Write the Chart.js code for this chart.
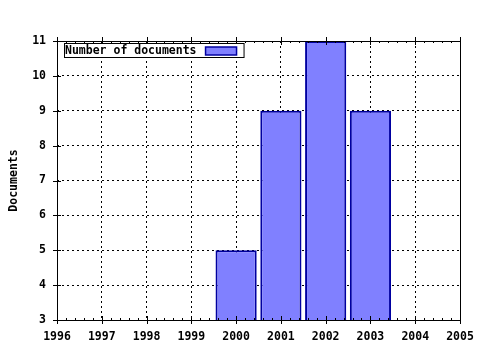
<!DOCTYPE html>
<html>
<head>
<meta charset="utf-8">
<script src="https://cdn.jsdelivr.net/npm/chart.js@4/dist/chart.umd.min.js"></script>
<style>
  html, body { margin: 0; padding: 0; background: #fff; }
  #wrap { width: 480px; height: 350px; }
</style>
</head>
<body>
<div id="wrap"><canvas id="docs"></canvas></div>
<script>
const years = [2000, 2001, 2002, 2003];
const docCounts = [5, 9, 11, 9];
const seriesLabel = 'Number of documents';
const axisTitle = 'Documents';

const FONT = { family: '"DejaVu Sans Mono", monospace', size: 11.5, weight: 'bold' };

// frame, crossing ticks, minor ticks and the boxed legend
const frame = {
    id: 'frame',
    afterDraw(chart) {
        const c = chart.ctx, a = chart.chartArea;
        const xs = chart.scales.x, ys = chart.scales.y;
        c.save();
        c.strokeStyle = '#000';
        c.lineWidth = 1;
        c.beginPath();
        c.rect(a.left + 0.5, a.top + 0.5, a.right - a.left, a.bottom - a.top);
        for (let v = xs.min; v <= xs.max + 0.001; v += 0.2) {
            const px = Math.round(xs.getPixelForValue(v)) + 0.5;
            const major = Math.abs(v - Math.round(v)) < 0.01;
            const up = major ? 4 : 2, down = major ? 4 : 0;
            c.moveTo(px, a.bottom - up); c.lineTo(px, a.bottom + down);
            c.moveTo(px, a.top - down); c.lineTo(px, a.top + up);
        }
        for (let v = ys.min; v <= ys.max; v++) {
            const py = Math.round(ys.getPixelForValue(v)) + 0.5;
            c.moveTo(a.left - 4, py); c.lineTo(a.left + 4, py);
        }
        c.stroke();

        // legend
        const ds = chart.data.datasets[0];
        const lx = a.left + 7, ly = a.top + 2;
        c.font = FONT.weight + ' ' + FONT.size + 'px ' + FONT.family;
        const tw = c.measureText(ds.label).width;
        const w = tw + 48, h = 14;
        c.fillStyle = '#fff';
        c.fillRect(lx, ly, w, h);
        c.strokeRect(lx + 0.5, ly + 0.5, w, h);
        c.fillStyle = '#000';
        c.textBaseline = 'middle';
        c.fillText(ds.label, lx + 1, ly + h / 2 + 1);
        c.fillStyle = ds.backgroundColor;
        c.strokeStyle = ds.borderColor;
        c.lineWidth = 1.5;
        c.fillRect(lx + w - 38, ly + 4, 31, 8);
        c.strokeRect(lx + w - 38, ly + 4, 31, 8);
        c.restore();
    }
};

new Chart(document.getElementById('docs'), {
    type: 'bar',
    data: {
        datasets: [{
            label: seriesLabel,
            data: years.map((y, i) => ({ x: y, y: docCounts[i] })),
            backgroundColor: '#8080ff',
            borderColor: '#0000a0',
            borderWidth: 2,
            categoryPercentage: 1,
            barPercentage: 0.92
        }]
    },
    options: {
        responsive: true,
        maintainAspectRatio: false,
        animation: false,
        layout: { padding: { left: 0, top: 41, right: 20, bottom: 0 } },
        plugins: { legend: { display: false }, tooltip: { enabled: false } },
        scales: {
            x: {
                type: 'linear',
                offset: false,
                min: 1996,
                max: 2005,
                afterFit(s) { s.height = 30; s.paddingLeft = 0; s.paddingRight = 0; },
                ticks: { stepSize: 1, color: '#000', font: FONT, padding: 10, maxRotation: 0,
                         callback: v => String(v) },
                grid: { color: '#000', drawTicks: false, offset: false },
                border: { display: false, dash: [2, 3] }
            },
            y: {
                min: 3,
                max: 11,
                afterFit(s) { s.width = 57; s.paddingTop = 0; s.paddingBottom = 0; },
                ticks: { stepSize: 1, color: '#000', font: FONT, padding: 11 },
                grid: { color: '#000', drawTicks: false },
                border: { display: false, dash: [2, 3] },
                title: { display: true, text: axisTitle, color: '#000', font: FONT, padding: { top: 7, bottom: 0 } }
            }
        }
    },
    plugins: [frame]
});
</script>
</body>
</html>
